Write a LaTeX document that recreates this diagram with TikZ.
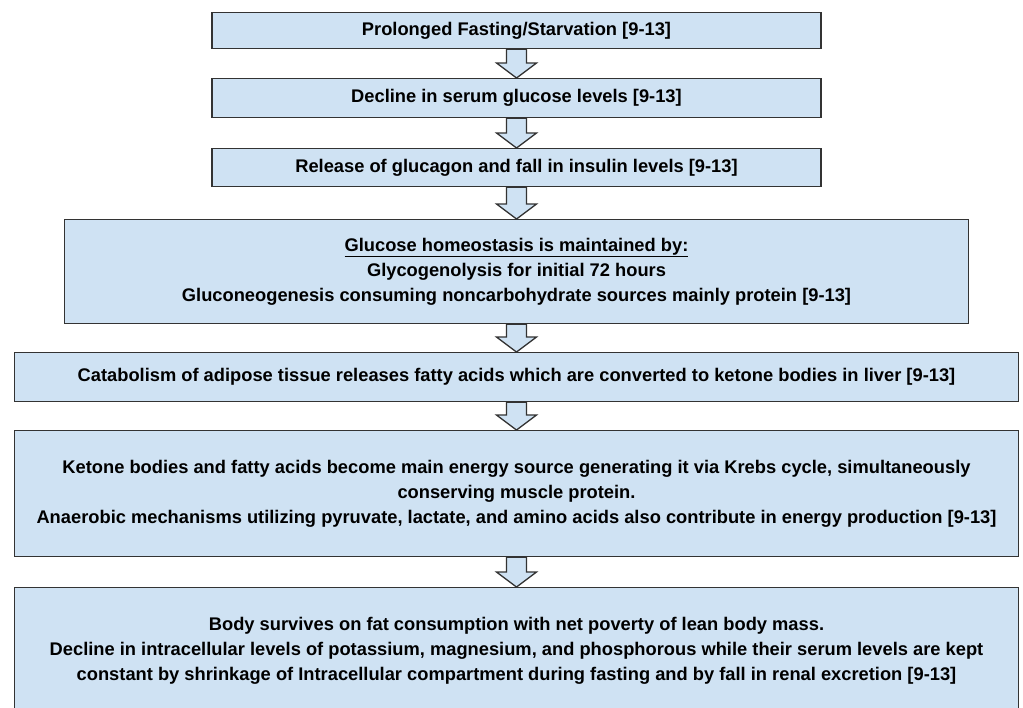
\documentclass[tikz,border=0pt]{standalone}
\usepackage{fontspec}
\setmainfont{Liberation Sans}
\usetikzlibrary{positioning}
\definecolor{boxblue}{HTML}{CFE2F3}
\definecolor{edgegray}{HTML}{333333}

\begin{document}
\begin{tikzpicture}[
            x=1pt,y=-1pt,
            box/.style={draw=edgegray,fill=boxblue,line width=1.3pt,rectangle,align=center,inner sep=0pt,
                        text=black,font=\bfseries\fontsize{18.3}{25}\selectfont},
            narrow/.style={box,minimum width=609pt},
            middle/.style={box,minimum width=904pt},
            wide/.style={box,minimum width=1004pt},
            blockarrow/.style={draw=edgegray,fill=boxblue,line width=1.3pt,line join=miter}
          ]
          \useasboundingbox (0,0) rectangle (1023,707);
          \clip (0,0) rectangle (1023,707);
          \fill[white] (0,0) rectangle (1023,707);

          %steps
          \node[narrow,minimum height=36pt,anchor=north] (fast) at (516.5,12) {Prolonged Fasting/Starvation [9-13]};
          \node[narrow,minimum height=39pt,below=28.7pt of fast] (gluc) {Decline in serum glucose levels [9-13]};
          \node[narrow,minimum height=38pt,below=29.7pt of gluc] (horm) {Release of glucagon and fall in insulin levels [9-13]};
          \node[middle,minimum height=104pt,below=31.7pt of horm] (homeo) {\underline{Glucose homeostasis is maintained by:}\\
            Glycogenolysis for initial 72 hours\\
            Gluconeogenesis consuming noncarbohydrate sources mainly protein [9-13]};
          \node[wide,minimum height=49pt,below=27.7pt of homeo] (lipo) {Catabolism of adipose tissue releases fatty acids which are converted to ketone bodies in liver [9-13]};
          \node[wide,minimum height=126pt,below=27.7pt of lipo] (keto) {Ketone bodies and fatty acids become main energy source generating it via Krebs cycle, simultaneously\\
            conserving muscle protein.\\
            Anaerobic mechanisms utilizing pyruvate, lactate, and amino acids also contribute in energy production [9-13]};
          \node[wide,minimum height=126pt,below=29.7pt of keto] (surv) {Body survives on fat consumption with net poverty of lean body mass.\\
            Decline in intracellular levels of potassium, magnesium, and phosphorous while their serum levels are kept\\
            constant by shrinkage of Intracellular compartment during fasting and by fall in renal excretion [9-13]};

          %arrows
          \foreach \a/\b in {fast/gluc,gluc/horm,horm/homeo,homeo/lipo,lipo/keto,keto/surv}
            \draw[blockarrow] ([xshift=-10pt]\a.south) -- ([xshift=-10pt,yshift=15pt]\b.north)
              -- ([xshift=-20pt,yshift=15pt]\b.north) -- (\b.north)
              -- ([xshift=20pt,yshift=15pt]\b.north) -- ([xshift=10pt,yshift=15pt]\b.north)
              -- ([xshift=10pt]\a.south) -- cycle;
      \end{tikzpicture}
\end{document}
